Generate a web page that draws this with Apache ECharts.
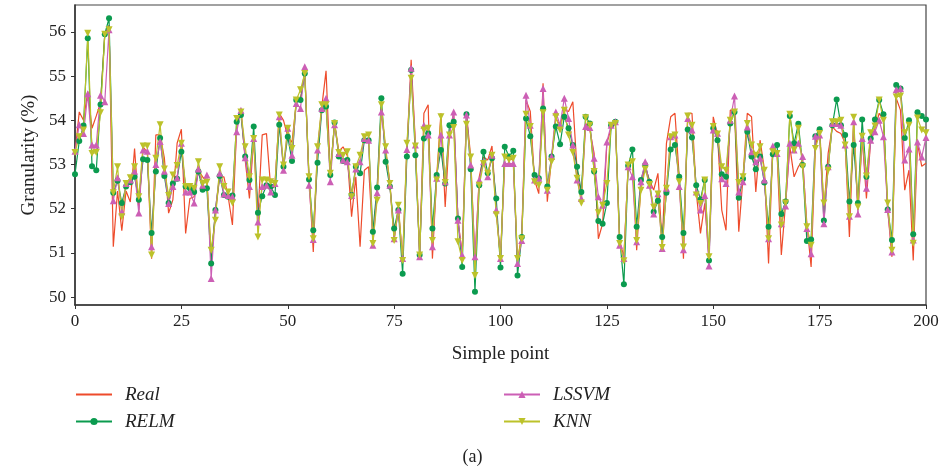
<!DOCTYPE html>
<html>
<head>
<meta charset="utf-8">
<script src="https://cdn.jsdelivr.net/npm/echarts@6/dist/echarts.min.js"></script>
<style>
html,body{margin:0;padding:0;background:#fff;}
#chart{width:945px;height:472px;}
</style>
</head>
<body>
<div id="chart"></div>
<script>
var xTicks = [0, 25, 50, 75, 100, 125, 150, 175, 200];
var yTicks = [50, 51, 52, 53, 54, 55, 56];
var seriesNames = ['Real', 'RELM', 'LSSVM', 'KNN'];

var real = [53.25,54.19,54.0,54.65,53.82,54.1,54.4,55.95,56.15,51.14,52.4,51.5,52.4,52.15,53.36,51.97,53.4,53.27,50.87,53.67,
53.67,53.15,51.9,52.2,53.48,53.8,51.44,52.23,52.27,52.87,52.72,52.6,50.91,51.9,52.72,52.72,52.27,51.63,53.85,54.23,
53.1,52.23,53.59,51.82,53.67,53.7,52.46,52.5,54.16,54.0,53.63,53.5,54.4,54.5,55.1,52.7,51.02,53.3,54.3,55.12,
52.8,53.95,53.3,53.4,53.2,51.82,52.72,51.14,52.87,52.95,51.3,52.4,54.3,53.3,52.6,51.3,52.0,50.85,53.3,55.37,
53.48,50.91,54.16,54.35,50.87,52.72,54.16,52.04,53.71,54.16,51.74,50.98,54.16,53.17,50.76,52.72,53.17,53.1,53.42,51.97,
50.87,53.21,53.14,53.1,50.8,51.44,54.46,54.2,52.65,52.34,54.84,52.16,53.14,54.04,53.89,54.23,54.2,54.42,52.87,52.3,
53.93,53.78,53.25,51.32,51.66,53.48,53.82,53.93,51.28,50.91,52.95,53.1,51.06,52.5,52.95,52.65,52.42,52.8,51.21,53.48,
54.08,54.16,52.72,50.87,54.16,54.16,52.38,51.44,52.12,50.91,54.08,53.67,51.97,51.51,54.23,54.23,51.48,52.72,54.16,54.08,
52.38,53.55,52.91,50.76,53.4,53.25,50.95,52.12,53.4,52.72,52.95,53.1,51.66,50.68,53.4,53.85,51.97,53.25,53.85,53.75,
53.7,53.48,51.36,53.93,51.97,53.63,52.23,53.55,53.82,54.16,54.0,51.97,50.91,54.5,54.23,52.42,52.87,50.83,53.48,52.96,53.03];

var relm = [52.78,53.53,53.88,55.86,52.96,52.87,54.36,55.95,56.31,52.36,52.63,52.13,52.5,52.6,52.72,52.2,53.12,53.1,51.45,52.84,
53.6,52.74,52.13,52.57,52.68,53.29,52.5,52.46,52.38,52.84,52.43,52.46,50.76,51.97,52.74,52.31,52.27,52.3,53.97,54.12,
53.18,52.65,53.86,51.91,52.28,52.53,52.5,52.31,53.9,52.95,53.63,53.08,54.46,54.46,55.06,52.66,51.51,53.04,54.23,54.31,
52.76,53.95,53.18,53.08,53.1,52.31,52.95,52.8,53.55,53.55,51.48,52.48,54.5,53.06,52.5,51.55,51.97,50.53,53.18,55.14,
53.21,50.95,53.59,53.71,51.55,52.76,53.33,52.57,53.89,53.97,51.78,50.68,54.14,52.89,50.12,52.53,53.29,52.8,53.14,52.23,
50.67,53.4,53.18,53.31,50.49,51.36,54.04,53.64,52.76,52.69,54.27,52.5,53.18,53.86,53.46,54.08,53.82,53.44,52.95,52.38,
54.08,53.93,52.84,51.72,51.66,52.13,53.89,53.97,51.36,50.29,52.97,53.34,51.59,52.65,52.99,52.61,51.93,52.18,51.36,52.36,
53.34,53.44,52.72,51.45,53.79,53.61,52.53,52.21,52.65,50.83,53.82,53.55,52.78,52.72,53.93,54.19,52.25,52.68,53.74,53.18,
52.89,53.18,52.59,51.59,53.23,53.44,51.88,52.16,54.1,53.48,53.92,52.99,51.27,51.3,53.64,53.8,51.73,52.95,53.89,54.47,
53.89,53.67,52.16,53.44,52.13,54.02,52.72,53.59,54.02,54.46,54.14,51.98,51.29,54.8,54.72,53.6,54.0,51.42,54.18,54.1,54.02];

var lssvm = [53.3,53.9,53.7,54.6,53.44,53.44,54.57,54.42,56.05,52.18,52.7,51.93,52.57,52.65,52.85,51.9,53.33,53.3,51.14,53.0,
53.52,52.85,52.12,52.5,52.7,53.48,52.38,52.38,52.13,52.9,52.53,52.76,50.42,51.97,52.8,52.33,52.3,52.27,53.74,54.23,
53.15,52.5,53.59,51.7,52.5,52.53,52.38,52.57,54.08,52.87,53.82,53.21,54.38,54.27,55.21,52.53,51.3,53.33,54.27,54.5,
52.61,53.9,53.25,53.1,53.06,52.3,52.9,53.06,53.59,53.55,51.17,52.36,54.19,53.33,52.53,51.32,51.97,50.87,53.34,55.18,
53.44,50.91,53.89,53.67,51.14,52.69,53.67,52.61,53.67,54.19,51.74,50.95,54.12,52.99,50.91,52.65,53.06,52.72,53.21,51.97,
50.87,53.02,53.02,53.02,50.76,51.28,54.57,53.89,52.65,52.69,54.72,52.42,53.18,54.19,53.89,54.5,54.04,53.44,52.65,52.23,
53.86,53.84,53.14,52.27,52.08,53.51,53.89,53.97,51.17,50.87,52.95,52.72,51.25,52.61,53.06,52.53,51.88,52.34,51.1,52.46,
53.63,53.67,52.5,51.07,54.04,53.78,52.38,51.97,52.3,50.7,53.78,53.71,52.68,52.57,54.0,54.55,52.38,52.61,53.85,53.29,
53.06,53.14,52.65,51.32,53.42,53.25,51.66,52.06,53.48,53.33,53.48,53.18,51.55,50.98,53.64,53.67,51.66,52.95,53.93,53.93,
53.89,53.44,51.83,53.97,51.88,53.59,52.46,53.55,53.74,54.0,53.63,51.98,51.02,54.69,54.72,53.1,53.35,51.29,53.51,53.17,53.61];

var knn = [53.27,53.63,53.78,55.97,53.25,53.27,54.17,55.95,56.05,52.36,52.95,51.82,52.57,52.7,52.95,52.27,53.42,53.42,50.95,53.14,
53.9,52.9,52.3,52.76,52.98,53.48,52.5,52.5,52.46,53.06,52.57,52.6,51.06,51.74,52.95,52.5,52.38,52.13,54.04,54.19,
53.4,52.72,53.59,51.36,52.65,52.65,52.61,52.57,54.12,52.99,53.82,53.36,54.46,54.69,55.06,52.72,51.32,53.4,54.35,54.35,
52.8,53.93,53.27,53.21,53.29,52.27,52.95,53.21,53.63,53.67,51.21,52.19,54.35,53.4,52.57,51.28,52.08,50.83,53.48,54.95,
53.42,50.95,53.78,53.82,51.28,52.65,54.08,52.59,53.67,53.84,51.25,50.83,53.91,53.17,50.49,52.53,53.02,52.8,53.21,51.86,
50.87,53.17,53.1,53.14,50.87,51.32,54.14,53.86,52.61,52.53,54.17,52.42,53.06,54.08,53.78,54.23,53.67,53.27,52.69,52.13,
54.06,53.89,52.84,51.91,52.08,52.57,53.89,53.93,51.21,50.82,52.99,53.06,51.28,52.42,52.89,52.55,52.03,52.33,51.12,52.46,
53.63,53.67,52.61,51.13,54.1,53.89,52.31,52.12,52.65,50.91,53.86,53.69,52.95,52.87,54.0,54.19,52.59,52.72,53.93,53.44,
53.21,53.4,52.87,51.32,53.29,53.25,51.63,52.13,54.14,53.33,53.82,52.95,51.59,51.17,53.36,53.7,52.13,52.87,53.97,53.97,
54.0,53.44,51.82,54.07,52.04,53.64,52.74,53.72,53.87,54.46,54.0,52.13,51.06,54.53,54.55,53.72,53.89,51.22,54.05,53.78,53.72];

var colors = ['#ee4b2b', '#0b9b4f', '#cc5fb5', '#bcc22a'];
var serif = '"Liberation Serif", "DejaVu Serif", serif';

function pairs(arr) { return arr.map(function (v, i) { return [i, v]; }); }

var chart = echarts.init(document.getElementById('chart'), null, {renderer: 'canvas'});
var legendText = {fontFamily: serif, fontStyle: 'italic', fontSize: 19, color: '#222', padding: [0, 0, 0, 8]};
var legendBase = {orient: 'vertical', top: 385, padding: 0, itemWidth: 36, itemHeight: 9, itemGap: 8, textStyle: legendText};
var option = {
  animation: false,
  backgroundColor: '#fff',
  title: {
    text: '(a)', left: 'center', top: 443,
    textStyle: {fontFamily: serif, fontWeight: 'normal', fontSize: 18, color: '#222'}
  },
  legend: [
    Object.assign({}, legendBase, {left: 75, data: [{name: 'Real', itemStyle: {opacity: 0}}, 'RELM']}),
    Object.assign({}, legendBase, {left: 503, data: ['LSSVM', 'KNN']})
  ],
  grid: {left: 75, right: 19, top: 5, height: 300, show: true, borderColor: '#444', borderWidth: 1.2, containLabel: false},
  xAxis: {
    type: 'value', min: 0, max: 200, interval: 25,
    name: 'Simple point', nameLocation: 'middle', nameGap: 40,
    nameTextStyle: {fontFamily: serif, fontSize: 19, color: '#222'},
    axisLine: {show: true, onZero: false, lineStyle: {color: '#333', width: 1.5}},
    axisTick: {show: true, inside: false, length: 4, lineStyle: {color: '#333'}},
    axisLabel: {fontFamily: serif, fontSize: 17, color: '#222', margin: 8},
    splitLine: {show: false}
  },
  yAxis: {
    type: 'value', min: 49.82, max: 56.61,
    name: 'Granularity (%)', nameLocation: 'middle', nameGap: 35, nameRotate: 90,
    nameTextStyle: {fontFamily: serif, fontSize: 19, color: '#222'},
    axisLine: {show: true, onZero: false, lineStyle: {color: '#333', width: 1.5}},
    axisTick: {show: true, inside: false, length: 4, customValues: yTicks, lineStyle: {color: '#333'}},
    axisLabel: {fontFamily: serif, fontSize: 17, color: '#222', margin: 9, customValues: yTicks},
    splitLine: {show: false}
  },
  series: [
    {name: 'Real', type: 'line', data: pairs(real), symbol: 'none', color: colors[0], lineStyle: {width: 1.2}},
    {name: 'RELM', type: 'line', data: pairs(relm), symbol: 'circle', symbolSize: 6, color: colors[1], lineStyle: {width: 1.2}},
    {name: 'LSSVM', type: 'line', data: pairs(lssvm), symbol: 'triangle', symbolSize: 7, color: colors[2], lineStyle: {width: 1.2}},
    {name: 'KNN', type: 'line', data: pairs(knn), symbol: 'triangle', symbolRotate: 180, symbolSize: 7, color: colors[3], lineStyle: {width: 1.2}}
  ]
};
chart.setOption(option);
</script>
</body>
</html>
